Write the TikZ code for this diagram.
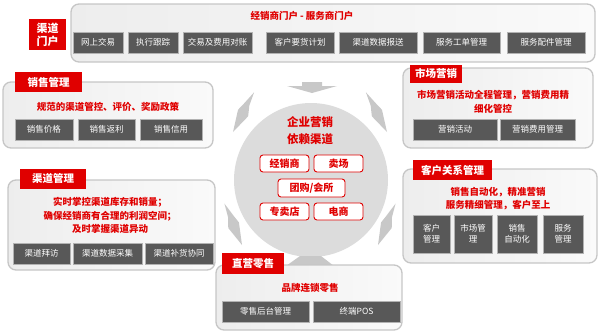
\documentclass[tikz,border=0pt]{standalone}
\usepackage{fontspec}
\setmainfont{Noto Sans CJK SC}
\definecolor{tagred}{HTML}{E00000}
\definecolor{cellgray}{HTML}{585858}
\definecolor{rimgray}{HTML}{C6C6C6}
\definecolor{boltgray}{HTML}{C8C8C8}
\definecolor{hubgray}{HTML}{DCDCDC}
\tikzset{
  panel/.style={draw=rimgray, line width=1.3pt, rounded corners=8pt, left color=black!7, right color=black!2, inner sep=0pt},
  tag/.style={fill=tagred, text=white, font=\fontsize{10.5}{12}\selectfont\bfseries, inner sep=0pt, align=center},
  cell/.style={fill=cellgray, draw=black!30, text=white, font=\fontsize{8.5}{11}\selectfont, inner sep=0pt, align=center, minimum height=21},
  redtext/.style={text=tagred, font=\fontsize{9.5}{13.5}\selectfont\bfseries, align=center, inner sep=0pt},
  chan/.style={draw=tagred, line width=0.9pt, fill=white, rounded corners=3pt, text=tagred, font=\fontsize{10}{12}\selectfont\bfseries, inner sep=0pt, minimum height=17},
  bolt/.pic={\fill[boltgray] (0,0) -- (21,6) -- (31,2) -- (45,0) -- (29,-4) -- (22,-6) -- cycle;}
}
\begin{document}
\begin{tikzpicture}[x=1pt, y=-1pt]
  \useasboundingbox (0,0) rectangle (600,335);
  % hub and arrows
  \fill[hubgray] (311,180) circle (77);
  \fill[boltgray] (302,82) -- (322,82) -- (322,86) -- (337,86) -- (312,93) -- (287,86) -- (302,86) -- cycle;
  \fill[boltgray] (300,256) -- (321,256) -- (334,266) -- (286,266) -- cycle;
  \pic[rotate=62] at (233,132) {bolt};
  \pic[rotate=118, yscale=-1] at (387,132) {bolt};
  \pic[rotate=67] at (378,245) {bolt};
  \pic[rotate=113, yscale=-1] at (242,245) {bolt};
  \node[redtext, font=\fontsize{11.5}{17}\selectfont\bfseries] (hubT) at (310,130.5) {企业营销\\依赖渠道};
  \node[chan, minimum width=49] (dealer) at (284.5,163.5) {经销商};
  \node[chan, minimum width=49] (mall) at (338.5,163.5) {卖场};
  \node[chan, minimum width=67, minimum height=18] (group) at (311.5,188) {团购/会所};
  \node[chan, minimum width=49] (store) at (284.5,211.5) {专卖店};
  \node[chan, minimum width=49] (eshop) at (338.5,211.5) {电商};

  % portal
  \node[panel, minimum width=524, minimum height=58] (portal) at (333,33) {};
  \node[tag, minimum width=37, minimum height=31, font=\fontsize{11}{13}\selectfont\bfseries] (portalT) at (47.5,34.5) {渠道\\门户};
  \node[redtext] (portalC) at (302,16) {经销商门户 - 服务商门户};
  \node[cell, minimum width=50] (p1) at (98,42.5) {网上交易};
  \node[cell, minimum width=50] (p2) at (153,42.5) {执行跟踪};
  \node[cell, minimum width=69] (p3) at (217.5,42.5) {交易及费用对账};
  \node[cell, minimum width=68] (p4) at (300,42.5) {客户要货计划};
  \node[cell, minimum width=78] (p5) at (378,42.5) {渠道数据报送};
  \node[cell, minimum width=77] (p6) at (461.5,42.5) {服务工单管理};
  \node[cell, minimum width=78] (p7) at (546,42.5) {服务配件管理};

  % sales
  \node[panel, minimum width=210, minimum height=66] (sales) at (108,115) {};
  \node[tag, minimum width=67, minimum height=20] (salesT) at (48.5,82) {销售管理};
  \node[redtext] (salesC) at (108,107) {规范的渠道管控、评价、奖励政策};
  \node[cell, minimum width=58] (s1) at (44,129.5) {销售价格};
  \node[cell, minimum width=57] (s2) at (106.5,129.5) {销售返利};
  \node[cell, minimum width=62] (s3) at (171,129.5) {销售信用};

  % marketing
  \node[panel, minimum width=190, minimum height=80] (mkt) at (498,108) {};
  \node[tag, minimum width=52, minimum height=18] (mktT) at (436,73.5) {市场营销};
  \node[redtext] (mktC) at (493,102) {市场营销活动全程管理，营销费用精\\细化管控};
  \node[cell, minimum width=84] (m1) at (455,129.5) {营销活动};
  \node[cell, minimum width=75] (m2) at (537.5,129.5) {营销费用管理};

  % channel
  \node[panel, minimum width=207, minimum height=90] (chnl) at (111.5,225) {};
  \node[tag, minimum width=66, minimum height=20] (chnlT) at (53,179) {渠道管理};
  \node[redtext] (chnlC) at (110,215.5) {实时掌控渠道库存和销量；\\确保经销商有合理的利润空间；\\及时掌握渠道异动};
  \node[cell, minimum width=57] (c1) at (41.5,253.5) {渠道拜访};
  \node[cell, minimum width=69] (c2) at (107.5,253.5) {渠道数据采集};
  \node[cell, minimum width=68] (c3) at (179,253.5) {渠道补货协同};

  % customer relations
  \node[panel, minimum width=194, minimum height=94] (crm) at (500,216) {};
  \node[tag, minimum width=79, minimum height=20] (crmT) at (452.5,170) {客户关系管理};
  \node[redtext] (crmC) at (498,198.5) {销售自动化，精准营销\\服务精细管理，客户至上};
  \node[cell, minimum width=37, minimum height=38] (r1) at (431.5,234) {客户\\管理};
  \node[cell, minimum width=38, minimum height=38] (r2) at (473,234) {市场管\\理};
  \node[cell, minimum width=40, minimum height=38] (r3) at (517,234) {销售\\自动化};
  \node[cell, minimum width=40, minimum height=38] (r4) at (563,234) {服务\\管理};

  % retail
  \node[panel, minimum width=186, minimum height=65] (retail) at (309,297.5) {};
  \node[tag, minimum width=62, minimum height=21] (retailT) at (253,263.5) {直营零售};
  \node[redtext] (retailC) at (310,288) {品牌连锁零售};
  \node[cell, minimum width=87] (t1) at (265.5,311.5) {零售后台管理};
  \node[cell, minimum width=87] (t2) at (356.5,311.5) {终端POS};
\end{tikzpicture}
\end{document}
